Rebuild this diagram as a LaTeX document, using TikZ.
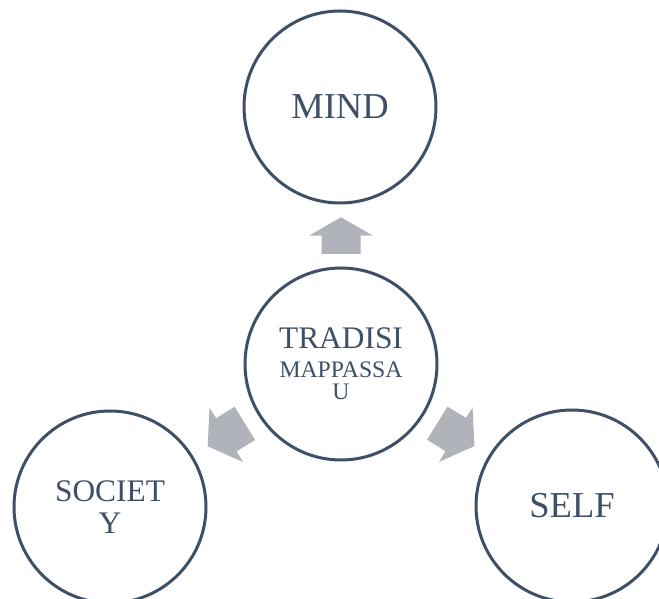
\documentclass[tikz,border=0pt]{standalone}
\usepackage{fontspec}
\setmainfont{Liberation Serif}
\usetikzlibrary{calc}

\definecolor{ringblue}{RGB}{62,79,102}
\definecolor{arrowgrey}{RGB}{176,179,186}

\tikzset{
    bubble/.style={circle, draw=ringblue, line width=3pt, fill=white,
        minimum size=192pt, inner sep=0pt, outer sep=0pt, text=ringblue, align=center},
    blockarrow/.pic={
        \fill[arrowgrey] (0,-19.5) -- (18.3,-19.5) -- (18.3,-32) -- (36.7,0)
            -- (18.3,32) -- (18.3,19.5) -- (0,19.5) -- cycle;
    }
}

\begin{document}
\begin{tikzpicture}[x=1pt, y=1pt]
    \useasboundingbox (0,0) rectangle (659,599);
    \clip (0,0) rectangle (659,599);

    % Centre
    \node[bubble, font=\fontsize{23.7}{29}\selectfont] (core) at (341,235)
        {{\fontsize{31.4}{29}\selectfont TRADISI}\\MAPPASSA\\[-7.3pt]U};

    % Mind
    \node[bubble, font=\fontsize{36.5}{40}\selectfont] (mind) at (340,492) {MIND};
    \pic[rotate=90] at ($(core)+(90:110)$) {blockarrow};

    % Society
    \node[bubble, font=\fontsize{31.4}{32}\selectfont] (society) at (110,92) {SOCIET\\Y};
    \pic[rotate=211.7, xscale=1.19] at ($(core)+(211.7:113)$) {blockarrow};

    % Self
    \node[bubble, font=\fontsize{36.5}{40}\selectfont] (self) at (572,93) {SELF};
    \pic[rotate=328.4, xscale=1.19] at ($(core)+(328.4:113)$) {blockarrow};

\end{tikzpicture}
\end{document}
